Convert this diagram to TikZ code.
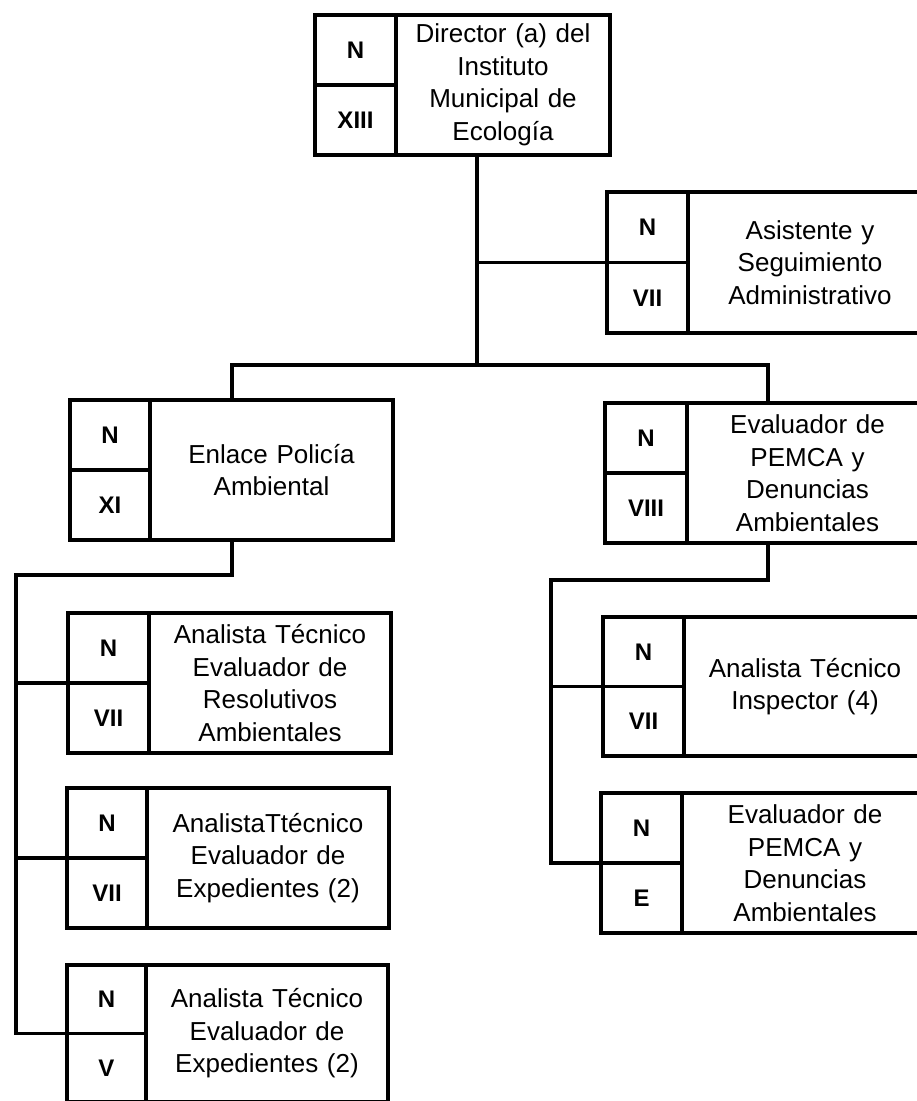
\documentclass[tikz,border=0pt]{standalone}
\usepackage{fontspec}
\setmainfont{Liberation Sans}
\tikzset{
  conn/.style={line width=3.2pt, line cap=rect},
  boxst/.style={draw, line width=3.2pt, inner sep=0pt, outer sep=0pt},
  cellst/.style={draw, line width=3.2pt, inner sep=0pt, outer sep=0pt, font=\fontsize{24}{28}\selectfont\bfseries},
  txtst/.style={inner sep=0pt, align=center, font=\fontsize{26}{32.5}\selectfont}
}
\newcommand\orgbox[9]{%
  \pgfmathsetmacro\bw{#5-#2}%
  \pgfmathsetmacro\bh{#6-#3}%
  \pgfmathsetmacro\cw{#4-#2}%
  \pgfmathsetmacro\ch{(#6-#3)/2}%
  \pgfmathsetmacro\tw{#5-#4-6}%
  \pgfmathsetmacro\tx{(#4+#5)/2}%
  \pgfmathsetmacro\ty{(#3+#6)/2}%
  \node[boxst, minimum width=\bw pt, minimum height=\bh pt, anchor=north west] (#1) at (#2,#3) {};
  \node[cellst, minimum width=\cw pt, minimum height=\ch pt, anchor=north west] (#1-a) at (#2,#3) {#7};
  \node[cellst, minimum width=\cw pt, minimum height=\ch pt, anchor=south west] (#1-b) at (#2,#6) {#8};
  \node[txtst, text width=\tw pt] (#1-t) at (\tx,\ty) {#9};
}
\begin{document}
\begin{tikzpicture}[x=1pt,y=-1pt]
\fill[white] (0,0) rectangle (917,1101);
\useasboundingbox (0,0) rectangle (917,1101);

\orgbox{dir}{315}{15}{396}{610}{155}{N}{XIII}{Director (a) del\\Instituto\\Municipal de\\Ecología}
\orgbox{asi}{607}{192}{688}{932}{333}{N}{VII}{Asistente y\\Seguimiento\\Administrativo}
\orgbox{enl}{70}{400}{150}{393}{540}{N}{XI}{Enlace Policía\\Ambiental}
\orgbox{eva}{605}{403}{687}{928}{543}{N}{VIII}{Evaluador de\\PEMCA y\\Denuncias\\Ambientales}
\orgbox{aa}{68}{613}{149}{391}{753}{N}{VII}{Analista Técnico\\Evaluador de\\Resolutivos\\Ambientales}
\orgbox{ab}{67}{788}{147}{389}{928}{N}{VII}{AnalistaTtécnico\\Evaluador de\\Expedientes (2)}
\orgbox{ac}{67}{965}{146}{388}{1102}{N}{V}{Analista Técnico\\Evaluador de\\Expedientes (2)}
\orgbox{ba}{603}{617}{684}{926}{756}{N}{VII}{Analista Técnico\\Inspector (4)}
\orgbox{bb}{601}{793}{682}{928}{933}{N}{E}{Evaluador de\\PEMCA y\\Denuncias\\Ambientales}

\coordinate (j1) at (477,365);
\coordinate (jl) at (232,365);
\coordinate (jr) at (768,365);
\draw[conn] (j1 |- dir.south) -- (j1);
\draw[conn] (j1 |- asi.west) -- (asi.west);
\draw[conn] (jl |- enl.north) -- (jl) -- (jr) -- (jr |- eva.north);

\coordinate (k1) at (232,575);
\coordinate (k2) at (16,575);
\draw[conn] (k1 |- enl.south) -- (k1) -- (k2) -- (k2 |- ac.west) -- (ac.west);
\draw[conn] (k2 |- aa.west) -- (aa.west);
\draw[conn] (k2 |- ab.west) -- (ab.west);

\coordinate (m1) at (768,580);
\coordinate (m2) at (551,580);
\draw[conn] (m1 |- eva.south) -- (m1) -- (m2) -- (m2 |- bb.west) -- (bb.west);
\draw[conn] (m2 |- ba.west) -- (ba.west);
\end{tikzpicture}
\end{document}
